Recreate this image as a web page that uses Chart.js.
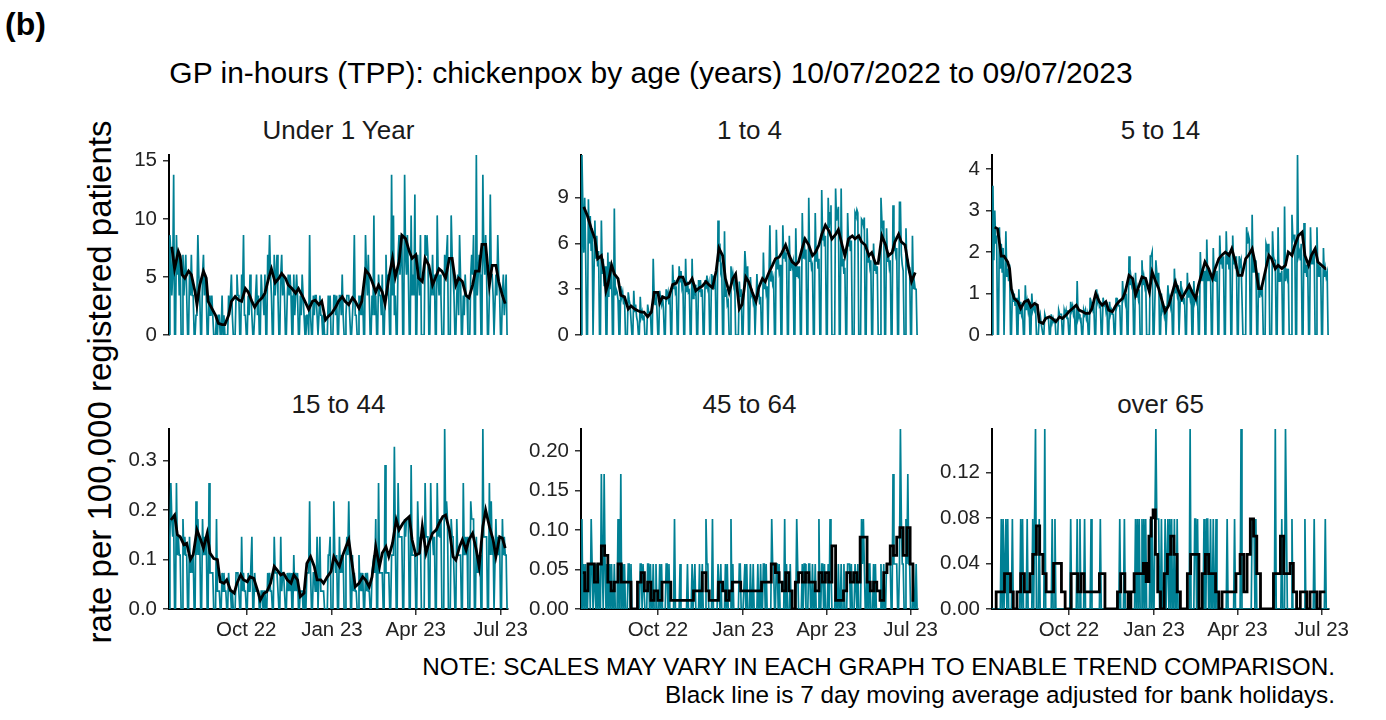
<!DOCTYPE html>
<html lang="en">
<head>
    <meta charset="UTF-8">
    <title>GP in-hours (TPP): chickenpox by age</title>
    <style>
        body {
            margin: 0;
            padding: 0;
            background-color: #fff;
            font-family: "Liberation Sans", Arial, sans-serif;
        }

        #page {
            position: relative;
            width: 1386px;
            height: 720px;
            overflow: hidden;
        }

        #page canvas {
            position: absolute;
        }

        #tag {
            position: absolute;
            left: 5px;
            top: 6px;
            font-size: 32px;
            font-weight: bold;
            color: #000;
        }

        #title {
            position: absolute;
            left: 151px;
            width: 1000px;
            top: 56px;
            text-align: center;
            font-size: 30px;
            line-height: 34px;
            color: #000;
            white-space: nowrap;
        }

        #ylabel {
            position: absolute;
            left: 100px;
            top: 382px;
            transform: translate(-50%, -50%) rotate(-90deg);
            font-size: 33px;
            white-space: nowrap;
            color: #000;
        }

        .strip {
            position: absolute;
            text-align: center;
            font-size: 26px;
            line-height: 28px;
            color: #1a1a1a;
            white-space: nowrap;
        }

        #note {
            position: absolute;
            left: 0;
            width: 1335px;
            top: 653px;
            text-align: right;
            font-size: 24.3px;
            line-height: 28px;
            color: #000;
        }
    </style>
</head>
<body>
    <div id="page">
        <div id="tag">(b)</div>
        <div id="title">GP in-hours (TPP): chickenpox by age (years) 10/07/2022 to 09/07/2023</div>
        <div id="ylabel">rate per 100,000 registered patients</div>
        <div id="note">NOTE: SCALES MAY VARY IN EACH GRAPH TO ENABLE TREND COMPARISON.<br>Black line is 7 day moving average adjusted for bank holidays.</div>
    </div>

    <script src="https://cdn.jsdelivr.net/npm/chart.js"></script>
    <script>
        // day 0 = Sun 10/07/2022, then one row per week (Mon..Sun)
        var monthTickDays = [83, 175, 265, 356];
        var monthTickLabels = ['Oct 22', 'Jan 23', 'Apr 23', 'Jul 23'];

        // ---- Under 1 Year ----
        var under1Daily = [0,
            8.6,6.9,3.4,5.2,13.8,0,0,
            8.6,5.2,6.9,3.4,6.9,0,0,
            6.9,3.4,5.2,6.9,3.4,0,0,
            5.2,3.4,6.9,3.4,3.4,0,0,
            1.7,3.4,8.6,5.2,3.4,0,0,
            5.2,6.9,3.4,5.2,3.4,0,0,
            3.4,1.7,1.7,3.4,1.7,0,0,
            0,1.7,0,1.7,1.7,0,0,
            3.4,0,1.7,0,0,0,0,
            3.4,1.7,3.4,5.2,1.7,0,0,
            0,3.4,5.2,3.4,3.4,0,0,
            5.2,3.4,8.6,1.7,1.7,0,0,
            3.4,1.7,5.2,3.4,1.7,0,0,
            1.7,3.4,5.2,1.7,3.4,0,0,
            5.2,3.4,3.4,1.7,5.2,0,0,
            6.9,5.2,8.6,5.2,3.4,0,0,
            6.9,3.4,5.2,6.9,3.4,0,0,
            5.2,6.9,3.4,5.2,3.4,0,0,
            3.4,5.2,3.4,5.2,3.4,0,0,
            5.2,1.7,3.4,5.2,3.4,0,0,
            3.4,1.7,5.2,3.4,1.7,0,0,
            1.7,1.7,0,8.6,1.7,0,0,
            3.4,1.7,3.4,3.4,1.7,0,0,
            3.4,1.7,1.7,0,1.7,0,0,
            0,0,3.4,1.7,3.4,0,0,
            0,3.4,3.4,1.7,3.4,0,0,
            3.4,3.4,1.7,5.2,1.7,0,0,
            1.7,3.4,3.4,3.4,1.7,0,0,
            1.7,3.4,8.6,1.7,1.7,0,0,
            3.4,1.7,3.4,1.7,3.4,0,0,
            8.6,5.2,3.4,6.9,3.4,0,0,
            3.4,1.7,10.3,1.7,3.4,0,0,
            5.2,3.4,3.4,1.7,5.2,0,0,
            3.4,6.9,3.4,5.2,3.4,0,0,
            13.8,3.4,10.3,1.7,3.4,0,0,
            6.9,8.6,5.2,6.9,8.6,0,0,
            13.8,6.9,5.2,8.6,5.2,0,0,
            10.3,3.4,5.2,3.4,12.1,0,0,
            6.9,5.2,3.4,8.6,0,0,0,
            0,8.6,6.9,8.6,6.9,0,0,
            5.2,3.4,6.9,3.4,5.2,0,0,
            10.3,5.2,3.4,5.2,3.4,0,0,
            0,6.9,5.2,6.9,8.6,0,0,
            0,10.3,6.9,5.2,3.4,0,0,
            3.4,5.2,1.7,8.6,5.2,0,0,
            3.4,1.7,5.2,3.4,3.4,0,0,
            0,5.2,6.9,5.2,8.6,0,0,
            15.5,3.4,5.2,6.9,5.2,0,0,
            13.8,6.9,5.2,8.6,5.2,0,0,
            3.4,12.1,5.2,5.2,3.4,0,0,
            5.2,3.4,8.6,5.2,3.4,0,0,
            3.4,5.2,1.7,3.4,5.2,0,0];
        var under1AvgDays = [3,6,10,12,14,17,21,24,28,30,33,37,40,42,46,50,53,57,60,64,67,71,75,78,82,85,89,92,96,100,103,107,110,114,118,121,125,128,132,136,139,143,146,150,154,157,161,164,168,171,175,
            179,182,186,189,193,197,200,204,207,211,215,218,222,225,229,232,236,240,243,247,250,254,258,261,265,268,272,275,279,283,286,290,293,297,301,304,308,311,315,319,322,326,329,333,336,340,344,347,351,354,358,361];
        var under1Avg = [7.6,5.7,7.2,6.8,5.2,4.9,5.5,5.2,3.7,2.6,4.3,5.5,4.9,2.9,2.3,1.7,1.0,0.9,0.9,1.7,2.9,3.3,3.0,2.9,4.0,3.7,2.9,2.4,2.9,3.2,3.6,4.9,5.7,4.5,4.9,5.3,4.9,4.3,4.0,3.6,4.0,3.4,2.9,2.2,2.9,3.0,2.6,2.9,1.3,1.6,1.9,
            2.4,2.9,3.3,2.9,2.6,3.2,2.9,2.3,2.9,5.6,5.2,4.6,3.7,4.3,3.7,2.7,4.9,6.6,5.0,6.3,8.6,8.3,7.2,6.6,6.9,4.9,4.6,6.6,6.0,4.3,4.9,5.7,5.5,4.9,6.6,6.6,4.3,4.9,4.6,3.4,3.2,4.3,5.5,5.5,7.8,7.8,4.3,6.0,6.0,4.6,3.4,2.7];
        var under1Ticks = [0, 5, 10, 15];
        var under1TickLabels = ['0', '5', '10', '15'];

        // ---- 1 to 4 ----
        var age1to4Daily = [0,
            11.8,8.4,5.4,9.0,5.4,0,0,
            8.9,6.0,7.8,5.5,7.0,0,0,
            7.5,5.0,6.5,4.5,5.5,0,0,
            7.5,4.0,5.0,3.2,4.5,0,0,
            5.4,2.5,4.8,3.0,4.5,0,0,
            8.3,2.6,3.0,2.8,2.3,0,0,
            3.2,2.5,2.8,2.0,2.5,0,0,
            0,2.8,2.3,2.0,2.0,0,0,
            2.9,1.5,2.0,1.2,0.9,0,0,
            2.5,1.2,1.5,1.0,1.3,0,0,
            0,2.0,1.5,1.5,1.5,0,0,
            5.0,2.5,2.0,2.8,1.7,0,0,
            2.9,2.3,2.0,2.6,1.8,0,0,
            3.0,2.5,2.8,2.0,2.7,0,0,
            4.6,3.0,3.6,2.8,3.0,0,0,
            4.5,3.5,4.2,3.2,3.6,0,0,
            5.0,2.8,3.5,2.8,2.9,0,0,
            5.0,2.4,3.0,2.8,3.3,0,0,
            3.6,2.8,3.6,2.5,3.0,0,0,
            3.6,3.0,3.9,3.1,3.4,0,0,
            4.0,3.3,3.9,3.0,3.8,0,0,
            7.5,4.8,6.0,4.2,4.5,0,0,
            6.8,2.5,3.0,2.0,2.2,0,0,
            4.5,3.5,4.0,3.3,3.7,0,0,
            0,0,3.5,2.5,3.0,0,0,
            0,5.5,4.5,3.5,4.5,0,0,
            3.8,2.6,2.8,2.2,2.6,0,0,
            4.0,2.5,3.0,2.0,2.5,0,0,
            5.4,3.0,3.6,2.8,3.2,0,0,
            7.2,3.5,4.2,3.4,3.7,0,0,
            6.9,4.3,5.0,4.2,4.6,0,0,
            7.2,5.0,5.6,4.8,5.4,0,0,
            6.5,4.2,5.0,4.5,4.8,0,0,
            7.0,3.8,4.5,3.7,4.5,0,0,
            8.0,5.0,6.4,5.0,5.6,0,0,
            9.0,4.8,5.2,4.4,4.6,0,0,
            8.0,4.8,5.8,4.4,5.0,0,0,
            9.5,6.2,7.0,5.8,6.5,0,0,
            9.0,7.0,8.0,8.5,0,0,0,
            0,9.6,7.5,8.0,8.4,0,0,
            9.6,4.5,5.0,4.0,4.4,0,0,
            8.0,5.8,6.5,5.5,6.2,0,0,
            0,8.0,7.8,8.2,8.0,0,0,
            0,7.6,7.5,7.2,7.7,0,0,
            7.0,4.8,5.3,4.5,4.9,0,0,
            6.0,4.2,4.8,4.0,4.5,0,0,
            0,9.0,7.5,7.0,7.5,0,0,
            7.0,4.8,5.3,4.5,4.9,0,0,
            8.5,5.5,6.0,5.3,5.7,0,0,
            8.7,8.7,5.3,4.6,4.2,0,0,
            7.0,4.5,5.0,4.2,4.3,0,0,
            6.5,3.0,3.5,3.0,3.0,0,0];
        var age1to4AvgDays = [3,7,11,15,18,22,25,27,29,33,36,40,43,47,51,54,58,61,65,68,72,76,79,83,85,88,92,95,99,103,106,110,113,117,120,124,128,131,135,138,142,146,149,153,156,160,164,167,171,174,
            178,181,185,189,192,196,199,203,207,210,214,217,221,225,228,232,235,239,242,246,250,253,257,260,264,268,271,275,278,282,285,289,293,296,300,303,307,311,314,318,321,325,329,332,336,339,343,346,350,354,357,361];
        var age1to4Avg = [8.4,7.8,7.0,6.3,5.0,5.2,4.1,2.9,3.3,4.6,4.0,3.7,2.6,2.5,1.7,1.9,1.7,1.6,1.5,1.5,1.2,1.5,2.8,2.8,2.1,2.5,2.4,2.5,3.3,3.4,3.8,3.8,3.3,3.4,3.7,2.9,3.1,3.2,3.5,3.3,3.1,4.2,5.7,5.2,3.7,2.8,3.7,4.0,1.7,2.0,
            3.8,3.5,2.8,2.2,3.1,3.7,3.5,4.1,4.6,5.0,5.1,5.4,5.9,5.2,4.8,4.6,4.8,5.7,6.3,5.9,5.2,5.4,5.9,6.6,7.2,6.8,6.3,6.6,6.9,5.9,5.2,6.3,6.5,6.3,6.5,6.1,5.9,5.2,5.4,4.7,4.7,6.5,5.9,5.2,5.4,6.1,6.6,6.1,5.9,4.4,3.5,4.1];
        var age1to4Ticks = [0, 3, 6, 9];
        var age1to4TickLabels = ['0', '3', '6', '9'];

        // ---- 5 to 14 ----
        var age5to14Daily = [0,
            3.6,1.8,3.0,2.2,2.4,0,0,
            2.6,1.6,2.2,1.5,2.1,0,0,
            2.5,1.4,1.6,1.3,1.7,0,0,
            1.1,0.8,1.0,0.7,0.9,0,0,
            1.1,0.5,0.8,0.5,0.6,0,0,
            1.2,0.6,0.8,0.6,0.8,0,0,
            1.0,0.6,0.7,0.6,0.7,0,0,
            0,0.4,0.5,0.3,0.3,0,0,
            0.5,0.4,0.4,0.4,0.4,0,0,
            0.5,0.3,0.4,0.3,0.4,0,0,
            0,0.6,0.5,0.5,0.5,0,0,
            0.6,0.5,0.6,0.4,0.4,0,0,
            0.8,0.6,0.7,0.5,0.6,0,0,
            1.3,0.4,0.5,0.4,0.4,0,0,
            0.6,0.5,0.6,0.4,0.5,0,0,
            0.9,0.6,0.7,0.6,0.7,0,0,
            1.1,0.8,0.9,0.7,0.75,0,0,
            0.9,0.7,0.8,0.6,0.8,0,0,
            0.8,0.5,0.6,0.5,0.5,0,0,
            0.9,0.7,0.8,0.7,0.7,0,0,
            1.3,0.9,1.0,0.8,1.0,0,0,
            1.9,1.2,1.4,1.2,1.3,0,0,
            1.5,0.9,1.1,0.9,1.1,0,0,
            1.8,1.2,1.4,1.2,1.4,0,0,
            0,0,1.9,1.9,2.0,0,0,
            0,1.8,1.5,1.2,1.5,0,0,
            1.0,0.6,0.7,0.5,0.7,0,0,
            1.2,0.8,0.9,0.7,0.9,0,0,
            1.6,1.0,1.2,1.0,1.2,0,0,
            1.3,0.8,1.0,0.8,0.85,0,0,
            1.5,0.9,1.1,0.9,1.1,0,0,
            1.3,0.8,0.9,0.8,0.95,0,0,
            2.0,1.3,1.6,1.3,1.55,0,0,
            2.3,1.3,1.6,1.3,1.5,0,0,
            2.1,1.3,1.5,1.3,1.55,0,0,
            2.4,1.7,1.9,1.6,1.9,0,0,
            2.5,1.7,2.0,1.6,2.0,0,0,
            2.4,1.7,1.9,1.6,1.9,0,0,
            1.9,1.7,1.8,1.8,0,0,0,
            0,2.6,2.2,2.4,2.3,0,0,
            2.9,1.5,1.8,1.5,1.8,0,0,
            1.5,0.9,1.1,1.0,1.1,0,0,
            0,2.2,2.1,2.0,2.2,0,0,
            0,2.5,1.9,1.8,1.8,0,0,
            2.6,1.3,1.5,1.3,1.55,0,0,
            3.1,1.3,1.6,1.4,1.6,0,0,
            0,2.9,2.3,2.4,2.4,0,0,
            4.34,1.9,2.0,1.8,2.2,0,0,
            2.7,1.5,1.7,1.4,1.7,0,0,
            2.6,1.7,2.0,1.7,2.0,0,0,
            2.6,1.4,1.7,1.4,1.65,0,0,
            2.1,1.4,1.6,1.4,1.5,0,0];
        var age5to14AvgDays = [3,6,10,13,17,19,21,24,28,31,35,39,42,46,49,51,55,58,62,65,69,73,76,80,83,87,91,94,98,101,105,108,112,116,119,123,126,130,134,137,141,144,148,152,155,159,162,166,170,173,
            177,180,184,187,191,195,198,202,205,209,213,216,220,223,227,230,234,238,241,245,248,252,256,259,263,266,270,274,277,281,284,288,291,295,299,302,306,309,313,317,320,324,327,331,335,338,342,345,349,352,356,360,361];
        var age5to14Avg = [2.6,2.56,1.9,1.9,1.76,1.6,1.1,0.88,0.8,0.64,0.8,0.84,0.68,0.76,0.72,0.32,0.28,0.4,0.44,0.4,0.32,0.44,0.4,0.48,0.56,0.64,0.72,0.6,0.56,0.52,0.52,0.64,1.0,0.8,0.72,0.8,0.6,0.56,0.72,0.8,0.88,1.04,1.44,1.36,0.96,1.2,1.4,1.36,1.04,1.52,
            1.28,1.12,0.8,0.56,0.72,1.04,1.28,1.04,0.88,1.04,1.2,1.04,0.88,1.2,1.52,1.76,1.6,1.36,1.6,1.84,1.92,2.0,1.92,2.08,1.76,1.44,1.44,1.84,1.92,2.08,1.76,1.12,1.12,1.52,1.92,1.84,1.6,1.68,1.6,1.68,2.0,1.92,2.16,2.4,2.48,1.92,1.68,1.92,2.08,1.76,1.68,1.6,1.6];
        var age5to14Ticks = [0, 1, 2, 3, 4];
        var age5to14TickLabels = ['0', '1', '2', '3', '4'];

        // ---- 15 to 44 ----
        var age15to44Daily = [0,
            .146,.255,.182,.146,.182,0,0,
            .255,.109,.146,.109,.109,0,0,
            .182,.109,.146,.109,.109,0,0,
            .146,.073,.109,.073,.109,0,0,
            .218,.109,.182,.109,.146,0,0,
            .182,.109,.146,.109,.146,0,0,
            .255,.073,.073,.073,.073,0,0,
            0,.182,.036,.036,.036,0,0,
            .073,.036,.073,.036,.036,0,0,
            .073,.036,.036,0,.036,0,0,
            0,.073,.073,.073,.036,0,0,
            .146,.036,.073,.036,.036,0,0,
            .073,.036,.036,.036,.146,0,0,
            .073,.036,.036,.036,.036,0,0,
            .036,.036,0,.036,.036,0,0,
            .073,.036,.073,.036,.036,0,0,
            .146,.073,.073,.073,.073,0,0,
            .146,.036,.073,.073,.036,0,0,
            .073,.036,.073,.036,.073,0,0,
            .109,.036,.073,.036,.073,0,0,
            .036,.036,.036,0,.036,0,0,
            .073,.073,.073,.218,.073,0,0,
            .073,.073,.036,.036,.146,0,0,
            .146,.036,.036,.036,.036,0,0,
            0,0,.109,.109,.146,0,0,
            0,.218,.109,.073,.109,0,0,
            .146,.073,.109,.073,.109,0,0,
            .109,.146,.109,.218,.109,0,0,
            .109,.036,.073,.036,.036,0,0,
            .109,.036,.073,.036,.073,0,0,
            .073,.036,.073,.036,.036,0,0,
            .073,.073,.109,.073,.182,0,0,
            .255,.073,.073,.073,.073,0,0,
            .291,.073,.073,.073,.073,0,0,
            .109,.109,.109,.328,.146,0,0,
            .255,.146,.146,.146,.146,0,0,
            .182,.146,.182,.182,.182,0,0,
            .291,.109,.109,.109,.109,0,0,
            .218,.146,.109,.146,0,0,0,
            0,.255,.146,.146,.146,0,0,
            .255,.146,.146,.109,.146,0,0,
            .255,.146,.182,.146,.182,0,0,
            0,.364,.182,.218,.182,0,0,
            0,.182,.146,.146,.146,0,0,
            .182,.109,.109,.109,.109,0,0,
            .255,.109,.146,.109,.146,0,0,
            0,.218,.182,.182,.182,0,0,
            .146,.073,.109,.073,.109,0,0,
            .364,.146,.146,.146,.146,0,0,
            .255,.109,.218,.109,.146,0,0,
            .182,.109,.146,.109,.146,0,0,
            .182,.109,.146,.109,.109,0,0];
        var age15to44AvgDays = [2,6,9,12,16,19,23,26,30,34,37,41,44,48,52,55,59,62,66,70,73,77,80,84,87,91,95,98,102,105,109,113,116,120,123,127,131,134,138,141,145,148,152,156,159,163,166,170,174,177,
            179,183,186,190,193,197,200,204,208,211,215,218,222,226,229,233,236,240,244,247,251,254,258,261,265,269,272,276,279,283,287,290,294,297,301,305,308,312,315,319,322,326,330,333,337,340,344,348,351,355,358,361];
        var age15to44Avg = [0.18,0.19,0.15,0.146,0.13,0.133,0.10,0.11,0.16,0.14,0.123,0.153,0.113,0.102,0.10,0.055,0.052,0.059,0.038,0.032,0.052,0.069,0.059,0.055,0.065,0.062,0.038,0.018,0.032,0.035,0.052,0.086,0.079,0.069,0.072,0.059,0.052,0.069,0.059,0.025,0.032,0.092,0.106,0.086,0.059,0.059,0.052,0.065,0.076,0.106,
            0.099,0.086,0.106,0.126,0.14,0.086,0.045,0.052,0.065,0.059,0.045,0.065,0.126,0.086,0.113,0.126,0.106,0.133,0.18,0.16,0.173,0.18,0.187,0.14,0.109,0.113,0.167,0.113,0.133,0.153,0.16,0.173,0.187,0.19,0.16,0.106,0.099,0.126,0.14,0.119,0.14,0.153,0.119,0.086,0.167,0.20,0.167,0.14,0.106,0.146,0.143,0.123];
        var age15to44Ticks = [0, 0.1, 0.2, 0.3];
        var age15to44TickLabels = ['0.0', '0.1', '0.2', '0.3'];

        // ---- 45 to 64 ----
        var age45to64Daily = [0,
            .114,0,.057,0,.057,0,0,
            .057,.057,0,.114,.057,0,0,
            .057,0,.057,0,.057,0,0,
            .171,.057,0,.171,.057,0,0,
            .057,0,.057,0,.057,0,0,
            .057,0,0,0,.114,0,0,
            .171,0,.057,0,.057,0,0,
            0,.057,.057,0,.057,0,0,
            0,0,0,0,0,0,0,
            .057,.057,0,.057,.057,0,0,
            0,.057,.057,0,.057,0,0,
            .057,0,0,.057,0,0,0,
            .057,0,.057,0,0,0,0,
            .057,.057,0,.057,0,0,0,
            0,0,.114,0,0,0,0,
            0,.057,0,0,0,0,0,
            0,0,.057,0,0,0,0,
            .057,0,0,.057,0,0,0,
            0,.057,0,0,.057,0,0,
            0,.114,.057,.057,0,0,0,
            0,.114,0,0,0,0,0,
            .057,.057,0,.057,0,0,0,
            0,.057,0,.057,0,0,0,
            .114,0,.057,0,0,0,0,
            0,0,.057,.057,0,0,0,
            0,.057,0,.057,0,0,0,
            .057,0,0,.057,0,0,0,
            0,.057,0,0,.057,0,0,
            .057,.057,0,.057,0,0,0,
            0,0,.114,.057,.057,0,0,
            .057,.057,0,.057,0,0,0,
            0,0,.114,0,.057,0,0,
            0,.057,0,0,0,0,0,
            0,.114,.057,0,0,0,0,
            .057,0,.057,.057,0,0,0,
            .057,.057,0,0,.057,0,0,
            .057,0,0,0,.114,0,0,
            .057,.057,0,.057,0,0,0,
            .057,0,.114,.057,0,0,0,
            0,.057,0,0,.057,0,0,
            .057,0,0,.057,0,0,0,
            .057,.057,.057,0,.057,0,0,
            0,.057,.057,0,.057,0,0,
            0,.114,.057,.114,.057,0,0,
            .057,0,.057,.057,0,0,0,
            .057,0,.057,0,0,0,0,
            0,.057,0,0,.057,0,0,
            .057,.057,.057,.057,.057,0,0,
            .171,.057,.057,.057,.057,0,0,
            .057,.228,.114,.057,.057,0,0,
            .114,.057,.171,.057,.057,0,0,
            0,.057,0,0,.057,0,0];
        var age45to64AvgDays = [2,6,9,13,16,20,24,27,31,34,38,42,45,49,52,56,59,63,67,70,74,77,81,85,90,95,99,104,111,119,124,129,133,137,140,146,151,155,158,162,165,171,174,178,
            181,187,192,198,203,208,212,216,219,223,226,230,233,237,241,244,248,251,255,259,262,266,269,273,277,282,285,289,293,296,300,303,307,311,314,318,321,325,329,332,336,339,343,346,350,354,357,360];
        var age45to64Avg = [.046,.023,.057,.057,.034,.057,.08,.068,.034,.023,.034,.057,.034,.034,.034,0,0,.034,.046,.023,.034,.011,.023,.011,.034,.034,.011,.011,.011,.011,.023,.023,.046,.023,.011,.011,.034,.023,.011,.023,.034,.034,.023,.023,
            .023,.023,.023,.034,.034,.057,.046,.034,.023,.046,.023,0,.034,.046,.034,.046,.034,.034,.023,.046,.034,.046,.034,.08,.011,.011,.023,.046,.034,.046,.034,.091,.091,.034,.023,.034,.023,.011,.046,.057,.08,.068,.091,.103,.068,.103,.057,.011];
        var age45to64Ticks = [0, 0.05, 0.10, 0.15, 0.20];
        var age45to64TickLabels = ['0.00', '0.05', '0.10', '0.15', '0.20'];

        // ---- over 65 ----
        var over65Daily = [0,
            0,0,0,0,0,0,0,
            0,0,.079,0,.079,0,0,
            .079,0,.079,0,0,0,0,
            .079,0,0,0,0,0,0,
            0,0,.079,0,.079,0,0,
            0,0,.079,0,0,0,0,
            0,.079,0,.079,.158,0,0,
            0,.079,0,0,0,0,0,
            .158,0,0,0,0,0,0,
            0,.079,0,0,.079,0,0,
            0,0,0,0,0,0,0,
            0,0,0,0,0,0,0,
            .079,0,0,0,0,0,0,
            .079,0,0,.079,0,0,0,
            0,.079,0,0,0,0,0,
            0,.079,0,0,0,0,0,
            0,0,0,0,.079,0,0,
            0,0,0,0,0,0,0,
            0,0,0,0,0,0,0,
            0,0,0,0,.079,0,0,
            0,0,.079,0,0,0,0,
            0,0,0,0,0,0,0,
            .079,0,.079,0,.079,0,0,
            .079,0,.079,0,.079,0,0,
            0,0,.079,0,.079,0,0,
            0,.158,.079,.079,.079,0,0,
            .079,0,0,0,.079,0,0,
            .079,0,.079,0,.079,0,0,
            .079,0,0,.079,0,0,0,
            0,0,0,0,0,0,0,
            0,0,0,.158,0,0,0,
            0,.079,.079,0,.079,0,0,
            0,0,0,0,.079,0,0,
            .079,.079,0,0,.079,0,0,
            .079,0,0,.079,0,0,0,
            0,0,0,0,0,0,0,
            0,.079,0,0,0,0,0,
            0,0,.079,0,0,0,0,
            0,0,.158,0,0,0,0,
            0,0,0,0,0,0,0,
            .079,.079,.079,0,.079,0,0,
            0,0,0,0,0,0,0,
            0,0,0,0,0,0,0,
            0,0,0,0,.158,0,0,
            0,0,0,0,.079,0,0,
            0,.158,.079,0,0,0,0,
            0,.079,0,0,0,0,0,
            0,0,0,0,0,0,0,
            0,.079,0,0,0,0,0,
            0,0,0,0,.079,0,0,
            0,0,0,0,0,0,0,
            0,0,.079,0,0,0,0];
        var over65AvgDays = [3,6,12,15,19,21,25,29,33,37,40,42,46,50,53,57,60,64,69,73,77,81,84,87,91,94,98,101,114,118,121,123,134,137,141,146,148,152,155,162,165,168,171,173,175,
            178,180,184,188,191,195,198,202,205,209,213,216,222,225,229,232,236,240,243,247,250,256,261,266,270,274,277,281,284,288,292,297,302,306,310,313,317,320,324,327,331,335,338,342,345,349,353,356,360];
        var over65Avg = [0,.015,.015,.031,.031,.015,0,.015,.031,.015,.015,.031,.048,.073,.048,.031,.015,.015,.04,.04,.015,0,0,.031,.031,.015,.031,.015,.015,.031,.031,0,0,.015,.031,.015,0,.015,.031,.031,.04,.024,.064,.08,.087,
            .048,.015,0,.031,.048,.064,.048,.015,0,0,.031,.048,.048,0,.031,.048,.031,.031,.015,0,.015,.015,.015,.031,.048,.015,.048,.079,.064,.031,0,0,0,.031,.031,.064,.031,.031,.04,.015,0,.015,.015,0,.015,.015,0,.015,.015];
        var over65Ticks = [0, 0.04, 0.08, 0.12];
        var over65TickLabels = ['0.00', '0.04', '0.08', '0.12'];

        var teal = 'rgb(0,128,148)';
        var plotLeft = [169, 581, 992];
        var plotRight = [508, 918, 1329];
        var plotTop = [155, 429];
        var plotH = 180;

        var panels = [
            { title: 'Under 1 Year', daily: under1Daily, avgDays: under1AvgDays, avg: under1Avg, ticks: under1Ticks, labels: under1TickLabels, col: 0, row: 0, stepped: false },
            { title: '1 to 4', daily: age1to4Daily, avgDays: age1to4AvgDays, avg: age1to4Avg, ticks: age1to4Ticks, labels: age1to4TickLabels, col: 1, row: 0, stepped: false },
            { title: '5 to 14', daily: age5to14Daily, avgDays: age5to14AvgDays, avg: age5to14Avg, ticks: age5to14Ticks, labels: age5to14TickLabels, col: 2, row: 0, stepped: false },
            { title: '15 to 44', daily: age15to44Daily, avgDays: age15to44AvgDays, avg: age15to44Avg, ticks: age15to44Ticks, labels: age15to44TickLabels, col: 0, row: 1, stepped: false },
            { title: '45 to 64', daily: age45to64Daily, avgDays: age45to64AvgDays, avg: age45to64Avg, ticks: age45to64Ticks, labels: age45to64TickLabels, col: 1, row: 1, stepped: 'middle' },
            { title: 'over 65', daily: over65Daily, avgDays: over65AvgDays, avg: over65Avg, ticks: over65Ticks, labels: over65TickLabels, col: 2, row: 1, stepped: 'middle' }
        ];

        Chart.defaults.font.family = '"Liberation Sans", Arial, sans-serif';

        var page = document.getElementById('page');

        panels.forEach(function(p) {
            var yw = 60, padR = 30, padT = 8;
            var left = plotLeft[p.col], right = plotRight[p.col], top = plotTop[p.row];
            var xh = p.row === 1 ? 34 : 0;
            var padB = p.row === 1 ? 0 : 10;

            var strip = document.createElement('div');
            strip.className = 'strip';
            strip.style.left = left + 'px';
            strip.style.width = (right - left) + 'px';
            strip.style.top = (top - 39) + 'px';
            strip.textContent = p.title;
            page.appendChild(strip);

            var canvas = document.createElement('canvas');
            canvas.width = right - left + yw + padR;
            canvas.height = plotH + padT + xh + padB;
            canvas.style.left = (left - yw) + 'px';
            canvas.style.top = (top - padT) + 'px';
            page.appendChild(canvas);

            var dailyPts = p.daily.map(function(v, i) { return { x: i, y: v }; });
            var avgPts = p.avgDays.map(function(d, i) { return { x: d, y: p.avg[i] }; });

            new Chart(canvas, {
                type: 'line',
                data: {
                    datasets: [{
                        data: avgPts,
                        borderColor: '#000',
                        borderWidth: 2.8,
                        pointRadius: 0,
                        tension: 0,
                        stepped: p.stepped,
                        order: 0
                    }, {
                        data: dailyPts,
                        borderColor: teal,
                        borderWidth: 1.7,
                        pointRadius: 0,
                        tension: 0,
                        order: 1
                    }]
                },
                options: {
                    responsive: false,
                    animation: false,
                    events: [],
                    layout: { padding: { top: padT, right: padR, bottom: padB, left: 0 } },
                    plugins: { legend: { display: false }, tooltip: { enabled: false } },
                    scales: {
                        x: {
                            type: 'linear',
                            min: 0,
                            max: 364,
                            display: p.row === 1,
                            grid: { display: true, drawOnChartArea: false, drawTicks: true, tickLength: 6, color: '#333', lineWidth: 1.5 },
                            border: { display: true, color: '#000', width: 2 },
                            ticks: {
                                color: '#222',
                                font: { size: 20.5 },
                                padding: 3,
                                maxRotation: 0,
                                autoSkip: false,
                                callback: function(v, i) { return monthTickLabels[i]; }
                            },
                            afterBuildTicks: function(s) {
                                s.ticks = monthTickDays.map(function(d) { return { value: d }; });
                            },
                            afterFit: function(s) {
                                s.height = xh;
                                s.paddingLeft = 0;
                                s.paddingRight = 0;
                            }
                        },
                        y: {
                            min: 0,
                            max: Math.max.apply(null, p.daily),
                            grid: { display: true, drawOnChartArea: false, drawTicks: true, tickLength: 6, color: '#333', lineWidth: 1.5 },
                            border: { display: true, color: '#000', width: 2 },
                            ticks: {
                                color: '#222',
                                font: { size: 20.5 },
                                padding: 6,
                                autoSkip: false,
                                callback: function(v, i) { return p.labels[i]; }
                            },
                            afterBuildTicks: function(s) {
                                s.ticks = p.ticks.map(function(t) { return { value: t }; });
                            },
                            afterFit: function(s) {
                                s.width = yw;
                                s.paddingTop = 0;
                                s.paddingBottom = 0;
                            }
                        }
                    }
                }
            });
        });
    </script>
</body>
</html>
